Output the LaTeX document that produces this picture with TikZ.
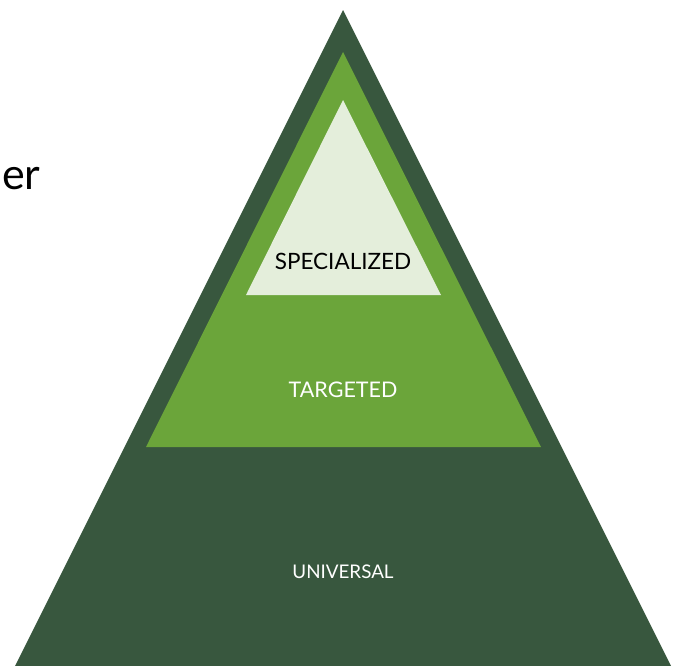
\documentclass[tikz,border=0pt]{standalone}
\usepackage{fontspec}
\setmainfont{Lato}
\usetikzlibrary{positioning}
\definecolor{darkgrn}{RGB}{56,87,62}
\definecolor{midgrn}{RGB}{107,165,58}
\definecolor{lightgrn}{RGB}{228,238,219}
\tikzset{
tier/.style={draw=none},
tierlbl/.style={
  inner sep=0pt,
  anchor=base,
  font=\fontsize{#1}{#1}\selectfont
  }
}

\begin{document}
\begin{tikzpicture}[x=1pt, y=-1pt]
\useasboundingbox (0,0) rectangle (680,665);
\clip (0,0) rectangle (680,665);

% corners of the three tiers
\coordinate (top1) at (343,10);
\coordinate (bl1) at (15,666);
\coordinate (br1) at (671,666);
\coordinate (top2) at (343,52);
\coordinate (bl2) at (146,447);
\coordinate (br2) at (541,447);
\coordinate (top3) at (343,100);
\coordinate (bl3) at (246,295);
\coordinate (br3) at (441,295);

\fill[tier, darkgrn] (top1) -- (bl1) -- (br1) -- cycle;
\fill[tier, midgrn] (top2) -- (bl2) -- (br2) -- cycle;
\fill[tier, lightgrn] (top3) -- (bl3) -- (br3) -- cycle;

\node[tierlbl=22.5, text=black] (special) at (343,269) {SPECIALIZED};
\node[tierlbl=21.5, text=white] (target) at (343,397) {TARGETED};
\node[tierlbl=18.8, text=white] (univ) at (343,578) {UNIVERSAL};

\node[inner sep=0pt, anchor=base west, font=\fontsize{43}{43}\selectfont]
  (cut) at (2,189) {er};
\end{tikzpicture}
\end{document}
